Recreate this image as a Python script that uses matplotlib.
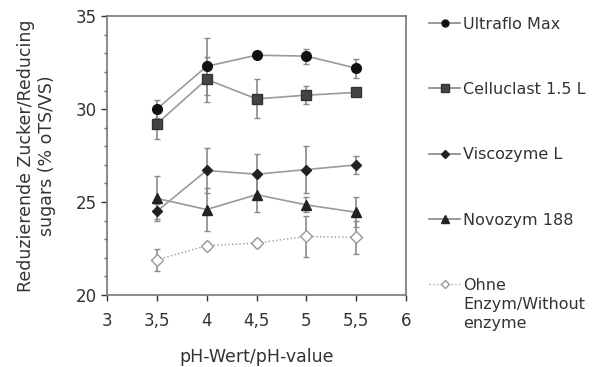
import numpy as np
import matplotlib.pyplot as plt
from matplotlib.lines import Line2D

# pH values
ph = [3.5, 4.0, 4.5, 5.0, 5.5]

# reducing sugars (% oTS/VS) and standard deviations
ultraflo = [30.0, 32.3, 32.9, 32.85, 32.2]
ultraflo_err = [0.5, 1.55, 0.1, 0.4, 0.5]
celluclast = [29.2, 31.6, 30.55, 30.75, 30.9]
celluclast_err = [0.8, 1.2, 1.05, 0.5, 0.1]
viscozyme = [24.5, 26.7, 26.5, 26.75, 27.0]
viscozyme_err = [0.4, 1.2, 1.07, 1.25, 0.5]
novozym = [25.2, 24.6, 25.4, 24.85, 24.45]
novozym_err = [1.2, 1.15, 0.95, 0.4, 0.8]
ohne = [21.9, 22.65, 22.8, 23.15, 23.1]
ohne_err = [0.6, 0.2, 0.2, 1.1, 0.9]

labels = ['Ultraflo Max', 'Celluclast 1.5 L', 'Viscozyme L', 'Novozym 188', 'Ohne']

plt.rcParams['font.family'] = 'DejaVu Sans'
fs = 11.5
fig = plt.figure(figsize=(6, 3.67), dpi=100)
ax = fig.add_axes([0.178, 0.196, 0.499, 0.76])

line_c = '#9a9a9a'
err_kw = dict(ecolor='#8a8a8a', elinewidth=1.2, capsize=2.5, capthick=1)

ax.errorbar(ph, ultraflo, yerr=ultraflo_err, color=line_c, lw=1.2, marker='o', ms=7,
            mfc='#111111', mec='#111111', **err_kw)
ax.errorbar(ph, celluclast, yerr=celluclast_err, color=line_c, lw=1.2, marker='s', ms=7,
            mfc='#444444', mec='#333333', **err_kw)
ax.errorbar(ph, viscozyme, yerr=viscozyme_err, color=line_c, lw=1.2, marker='D', ms=5.5,
            mfc='#222222', mec='#222222', **err_kw)
ax.errorbar(ph, novozym, yerr=novozym_err, color=line_c, lw=1.2, marker='^', ms=7.5,
            mfc='#222222', mec='#222222', **err_kw)
ax.errorbar(ph, ohne, yerr=ohne_err, color=line_c, lw=1.0, ls=':', marker='D', ms=6,
            mfc='white', mec='#999999', **err_kw)

ax.set_xlim(3, 6)
ax.set_ylim(20, 35)
ax.set_xticks([3, 3.5, 4, 4.5, 5, 5.5, 6])
ax.set_xticklabels(['3', '3,5', '4', '4,5', '5', '5,5', '6'])
ax.set_yticks([20, 25, 30, 35])
ax.set_yticks(np.arange(20, 35, 1), minor=True)
ax.tick_params(labelsize=12, colors='#333333', length=4, width=1)
ax.tick_params(which='minor', length=2.5, width=1, colors='#666666')
ax.tick_params(axis='x', pad=8)
for s in ax.spines.values():
    s.set_color('#777777')
    s.set_linewidth(1.2)

ax.set_xlabel('pH-Wert/pH-value', fontsize=12.5, color='#333333', labelpad=13)
ax.set_ylabel('Reduzierende Zucker/Reducing\nsugars (% oTS/VS)', fontsize=12.5,
              color='#333333', labelpad=14, linespacing=1.2)

# legend handles: small markers without error bars
handles = [
    Line2D([], [], color='#888888', lw=1.2, marker='o', ms=5, mfc='#111111', mec='#111111'),
    Line2D([], [], color='#888888', lw=1.2, marker='s', ms=5.5, mfc='#444444', mec='#333333'),
    Line2D([], [], color='#888888', lw=1.2, marker='D', ms=4, mfc='#222222', mec='#222222'),
    Line2D([], [], color='#888888', lw=1.2, marker='^', ms=5.5, mfc='#222222', mec='#222222'),
    Line2D([], [], color='#aaaaaa', lw=1.0, ls=':', marker='D', ms=4.5, mfc='white', mec='#999999'),
]
leg = fig.legend(handles, labels, loc='upper left', bbox_to_anchor=(0.705, 0.972),
                 frameon=False, fontsize=fs, labelspacing=3.15, handlelength=1.9,
                 handletextpad=0.2, borderaxespad=0)
for t in leg.get_texts():
    t.set_color('#333333')

# rest of the last legend label, placed under its first line
fig.canvas.draw()
r = fig.canvas.get_renderer()
bb = leg.get_texts()[-1].get_window_extent(r).transformed(fig.transFigure.inverted())
fig.text(bb.x0, bb.y0 - 0.012, 'Enzym/Without\nenzyme', fontsize=fs, color='#333333',
         ha='left', va='top', linespacing=1.3)

fig.savefig('out.png', dpi=100)
